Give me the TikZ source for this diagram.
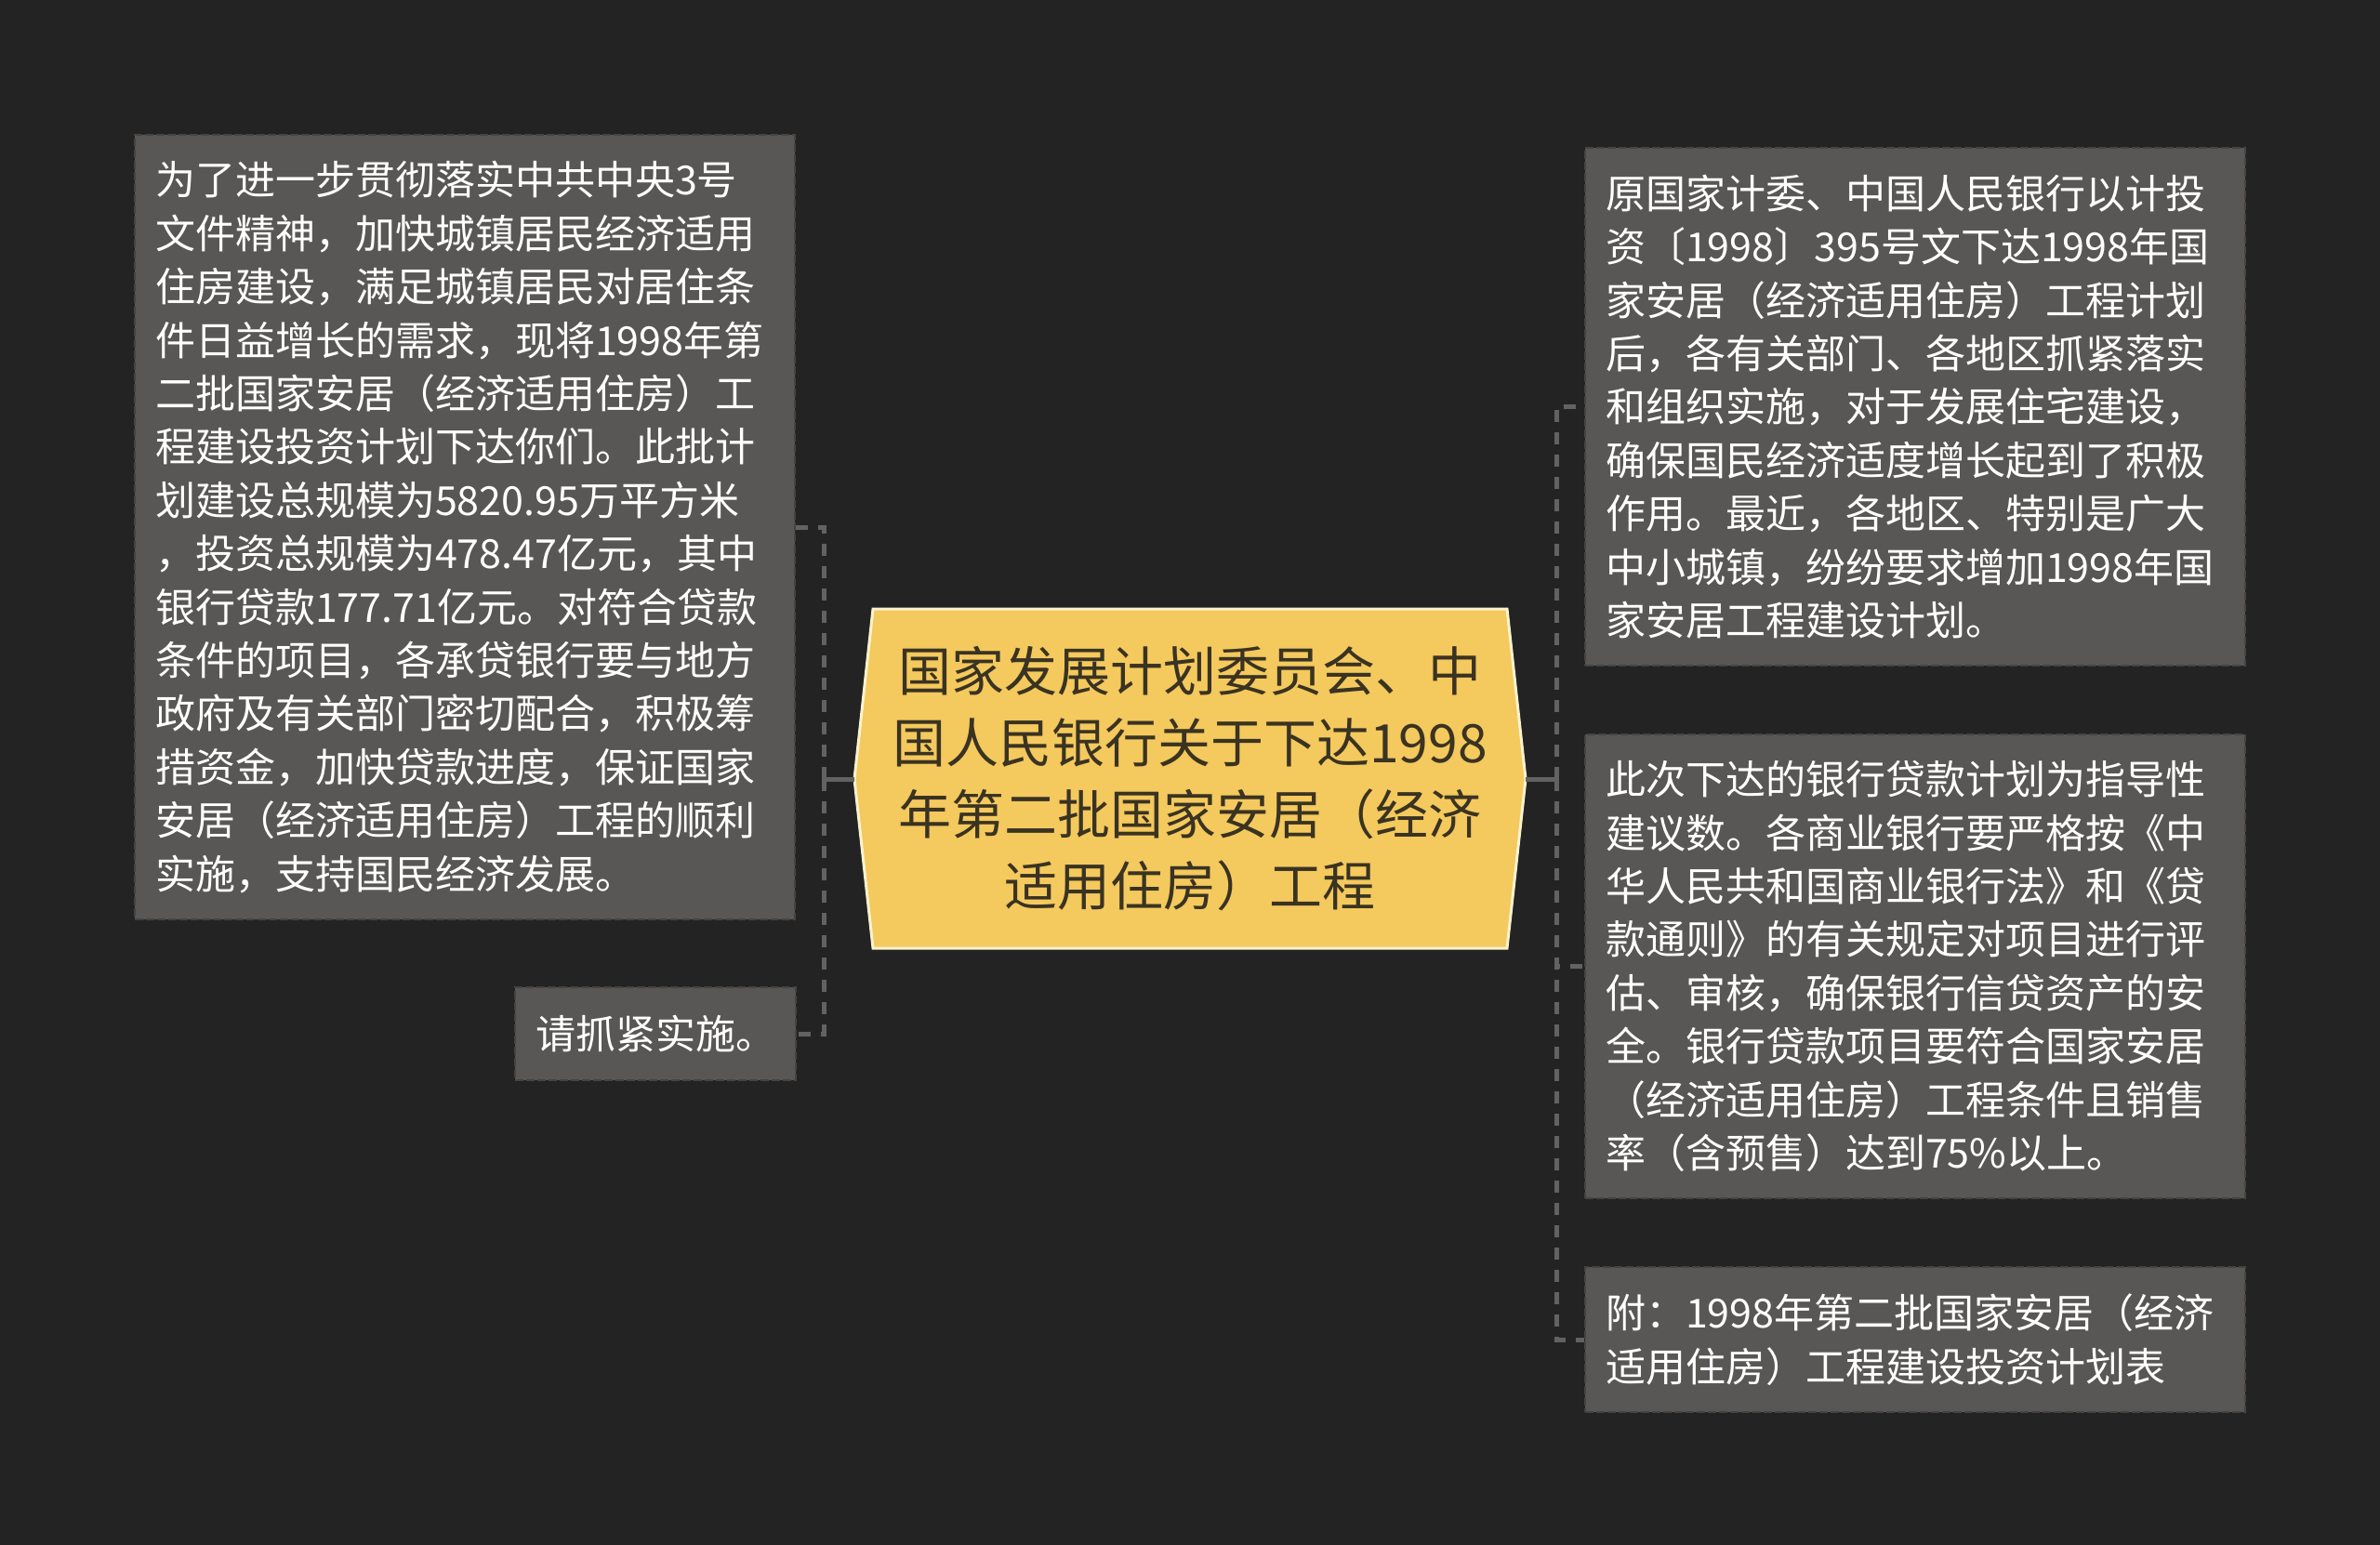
\documentclass[tikz,border=0pt]{standalone}
\usepackage{fontspec}
\setmainfont{Noto Sans CJK SC}

\definecolor{bgdark}{HTML}{232323}
\definecolor{boxfill}{HTML}{595755}
\definecolor{boxline}{HTML}{454341}
\definecolor{linkgray}{HTML}{626262}
\definecolor{titlefill}{HTML}{F4C95D}
\definecolor{titleedge}{HTML}{FBF2CF}
\definecolor{titleink}{HTML}{3A3322}

\begin{document}
\begin{tikzpicture}[x=1pt, y=-1pt,
    memo/.style={draw=boxline, fill=boxfill, line width=2pt, dash pattern=on 9pt off 3pt,
        text=white, font=\fontsize{43}{57.4}\selectfont, align=left,
        inner xsep=22pt, inner ysep=0pt, anchor=north west},
    stub/.style={draw=linkgray, line width=5pt},
    link/.style={stub, dash pattern=on 13pt off 11pt},
    titletext/.style={text=titleink, font=\fontsize{57}{77}\selectfont, align=center}]

    % canvas
    \def\canvasW{2560}
    \def\canvasH{1662}
    \fill[bgdark] (0,0) rectangle (\canvasW,\canvasH);

    % column params
    \def\leftX{144};
    \def\rightX{1704};
    \def\memoW{666};
    \def\elbow{33};

    % title params
    \def\titleL{919};
    \def\titleR{1641};
    \def\titleTop{655};
    \def\titleBot{1020};
    \def\titleMid{838};
    \def\titleCut{20};

    %% draw left boxes
    \node[memo, text width=\memoW pt, minimum height=844pt] (plan) at (\leftX,144) {为了进一步贯彻落实中共中央3号\\文件精神，加快城镇居民经济适用\\住房建设，满足城镇居民对居住条\\件日益增长的需求，现将1998年第\\二批国家安居（经济适用住房）工\\程建设投资计划下达你们。此批计\\划建设总规模为5820.95万平方米\\，投资总规模为478.47亿元，其中\\银行贷款177.71亿元。对符合贷款\\条件的项目，各承贷银行要与地方\\政府及有关部门密切配合，积极筹\\措资金，加快贷款进度，保证国家\\安居（经济适用住房）工程的顺利\\实施，支持国民经济发展。};

    \node[memo, text width=258pt, minimum height=100pt] (urge) at (553,1061) {请抓紧实施。};

    %% draw right boxes
    \node[memo, text width=\memoW pt, minimum height=557pt] (history) at (\rightX,158) {原国家计委、中国人民银行以计投\\资〔1998〕395号文下达1998年国\\家安居（经济适用住房）工程计划\\后，各有关部门、各地区抓紧落实\\和组织实施，对于发展住宅建设，\\确保国民经济适度增长起到了积极\\作用。最近，各地区、特别是广大\\中小城镇，纷纷要求增加1998年国\\家安居工程建设计划。};

    \node[memo, text width=\memoW pt, minimum height=499pt] (loans) at (\rightX,789) {此次下达的银行贷款计划为指导性\\建议数。各商业银行要严格按《中\\华人民共和国商业银行法》和《贷\\款通则》的有关规定对项目进行评\\估、审核，确保银行信贷资产的安\\全。银行贷款项目要符合国家安居\\（经济适用住房）工程条件且销售\\率（含预售）达到75\%以上。};

    \node[memo, text width=\memoW pt, minimum height=156pt] (annex) at (\rightX,1362) {附：1998年第二批国家安居（经济\\适用住房）工程建设投资计划表};

    %% draw title
    \draw[fill=titlefill, draw=titleedge, line width=3pt, line join=miter]
        (\titleL+\titleCut,\titleTop) -- (\titleR-\titleCut,\titleTop) -- (\titleR,\titleMid)
        -- (\titleR-\titleCut,\titleBot) -- (\titleL+\titleCut,\titleBot) -- (\titleL,\titleMid) -- cycle;
    \coordinate (titleW) at (\titleL,\titleMid);
    \coordinate (titleE) at (\titleR,\titleMid);
    \node[titletext] (title) at (1280,\titleMid) {国家发展计划委员会、中\\国人民银行关于下达1998\\年第二批国家安居（经济\\适用住房）工程};

    % draw links
    \coordinate (forkW) at (\titleL-\elbow,\titleMid);
    \coordinate (forkE) at (\titleR+\elbow,\titleMid);
    \draw[stub] (titleW) -- (forkW);
    \draw[stub] (titleE) -- (forkE);

    \draw[link] (forkW) |- (plan.east);
    \draw[link] (forkW) |- (urge.east);
    \draw[link] (forkE) |- (history.west);
    \draw[link] (forkE) |- (loans.west);
    \draw[link] (forkE) |- (annex.west);

\end{tikzpicture}
\end{document}
